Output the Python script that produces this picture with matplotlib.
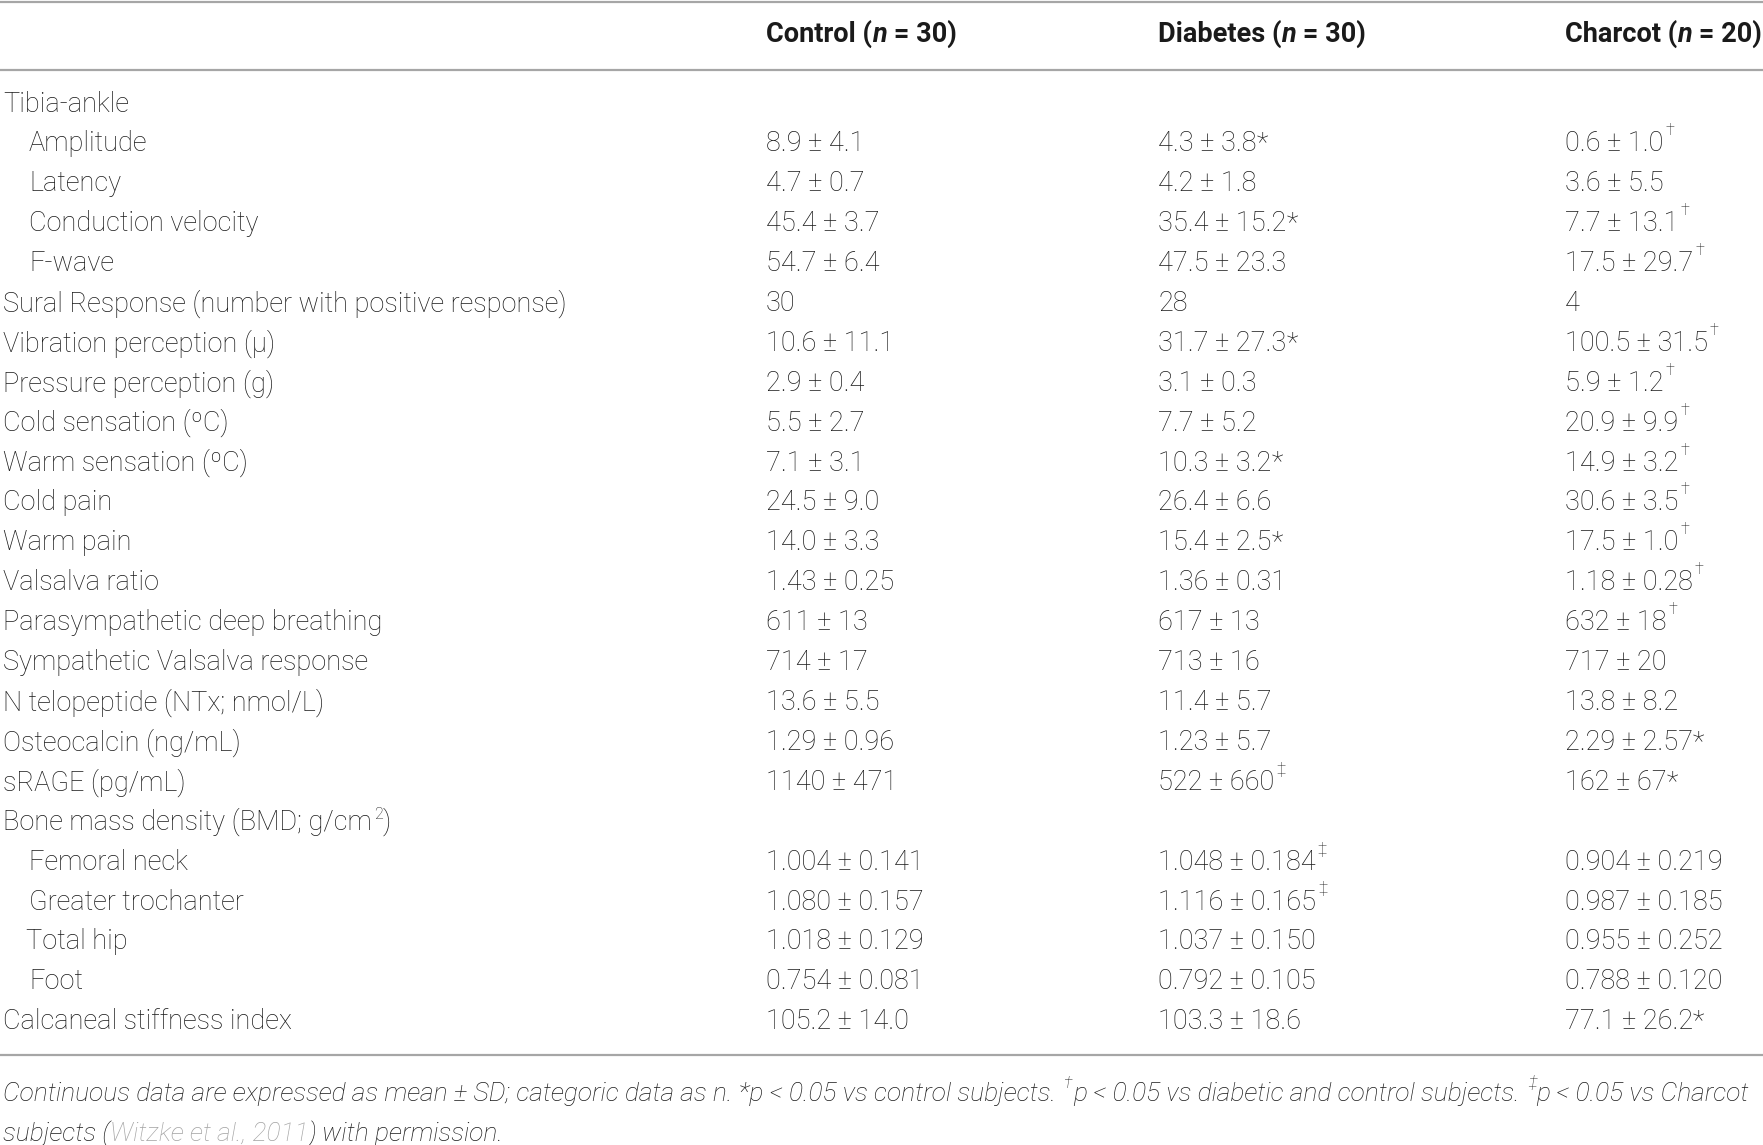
import matplotlib
matplotlib.use("Agg")
import matplotlib.pyplot as plt

# ---------------- data ----------------
headers = ["Control", "Diabetes", "Charcot"]
header_n = ["30", "30", "20"]

row_labels = [
    "Tibia-ankle", "Amplitude", "Latency", "Conduction velocity", "F-wave",
    "Sural Response (number with positive response)", "Vibration perception (\u03bc)",
    "Pressure perception (g)", "Cold sensation (\u00baC)", "Warm sensation (\u00baC)",
    "Cold pain", "Warm pain", "Valsalva ratio", "Parasympathetic deep breathing",
    "Sympathetic Valsalva response", "N telopeptide (NTx; nmol/L)",
    "Osteocalcin (ng/mL)", "sRAGE (pg/mL)", "Bone mass density (BMD; g/cm",
    "Femoral neck", "Greater trochanter", "Total hip", "Foot",
    "Calcaneal stiffness index",
]
row_indent = [0, 1, 1, 1, 1, 0, 0, 0, 0, 0, 0, 0, 0, 0, 0, 0, 0, 0, 0, 1, 1, 1, 1, 0]

control = ["", "8.9\u00b14.1", "4.7\u00b10.7", "45.4\u00b13.7", "54.7\u00b16.4", "30",
           "10.6\u00b111.1", "2.9\u00b10.4", "5.5\u00b12.7", "7.1\u00b13.1", "24.5\u00b19.0",
           "14.0\u00b13.3", "1.43\u00b10.25", "611\u00b113", "714\u00b117", "13.6\u00b15.5",
           "1.29\u00b10.96", "1140\u00b1471", "", "1.004\u00b10.141", "1.080\u00b10.157",
           "1.018\u00b10.129", "0.754\u00b10.081", "105.2\u00b114.0"]
control_mark = [""] * 24

diabetes = ["", "4.3\u00b13.8", "4.2\u00b11.8", "35.4\u00b115.2", "47.5\u00b123.3", "28",
            "31.7\u00b127.3", "3.1\u00b10.3", "7.7\u00b15.2", "10.3\u00b13.2", "26.4\u00b16.6",
            "15.4\u00b12.5", "1.36\u00b10.31", "617\u00b113", "713\u00b116", "11.4\u00b15.7",
            "1.23\u00b15.7", "522\u00b1660", "", "1.048\u00b10.184", "1.116\u00b10.165",
            "1.037\u00b10.150", "0.792\u00b10.105", "103.3\u00b118.6"]
diabetes_mark = ["", "*", "", "*", "", "", "*", "", "", "*", "", "*", "", "", "", "",
                 "", "\u2021", "", "\u2021", "\u2021", "", "", ""]

charcot = ["", "0.6\u00b11.0", "3.6\u00b15.5", "7.7\u00b113.1", "17.5\u00b129.7", "4",
           "100.5\u00b131.5", "5.9\u00b11.2", "20.9\u00b19.9", "14.9\u00b13.2", "30.6\u00b13.5",
           "17.5\u00b11.0", "1.18\u00b10.28", "632\u00b118", "717\u00b120", "13.8\u00b18.2",
           "2.29\u00b12.57", "162\u00b167", "", "0.904\u00b10.219", "0.987\u00b10.185",
           "0.955\u00b10.252", "0.788\u00b10.120", "77.1\u00b126.2"]
charcot_mark = ["", "\u2020", "", "\u2020", "\u2020", "", "\u2020", "\u2020", "\u2020", "\u2020",
                "\u2020", "\u2020", "\u2020", "\u2020", "", "", "*", "*", "", "", "", "", "", "*"]

footnote1 = [("Continuous data are expressed as mean \u00b1 SD; categoric data as n. *p < 0.05 vs control subjects. ", "n"),
             ("\u2020", "sup"),
             ("p < 0.05 vs diabetic and control subjects. ", "n"),
             ("\u2021", "sup"),
             ("p < 0.05 vs Charcot", "n")]
footnote2 = [("subjects (", "n"), ("Witzke et al., 2011", "gray"), (") with permission.", "n")]

# ---------------- layout ----------------
W, H = 1763, 1145
fig = plt.figure(figsize=(W / 100, H / 100), dpi=100)
ax = fig.add_axes([0, 0, 1, 1])
ax.set_xlim(0, W)
ax.set_ylim(H, 0)
ax.axis("off")

BODY = dict(family=["Roboto", "DejaVu Sans"], fontweight="light", fontsize=19.5, color="#1a1a1a")
HEAD = dict(family=["Roboto", "DejaVu Sans"], fontweight="bold", fontsize=19.5, color="#1a1a1a")
FOOT = dict(family=["Roboto", "DejaVu Sans"], fontweight="light", style="italic", fontsize=19.0, color="#1a1a1a")

fig.canvas.draw()
renderer = fig.canvas.get_renderer()


def width_of(s, props):
    t = ax.text(0, 0, s + "|", **props)
    t2 = ax.text(0, 0, "|", **props)
    w = t.get_window_extent(renderer).width - t2.get_window_extent(renderer).width
    t.remove(); t2.remove()
    return w


def runs(x, y, parts, base, sup_dy=12):
    for s, kind in parts:
        p = dict(base)
        yy = y
        if kind == "sup":
            p["fontsize"] = base["fontsize"] * 0.6
            yy = y - sup_dy
            x += 2
        elif kind == "gray":
            p["color"] = "#a3a3a3"
        elif kind == "bi":
            p["style"] = "italic"
        ax.text(x, yy, s, va="center", ha="left", **p)
        x += width_of(s, p)
    return x


def pm(s):
    return s.replace("\u00b1", " \u00b1 ")


# rules
for yl in (1.5, 70, 1055):
    ax.plot([0, W], [yl, yl], color="#a6a6a6", lw=1.6, solid_capstyle="butt")

col_x = [766, 1158, 1565]
for hx, h, n in zip(col_x, headers, header_n):
    runs(hx, 34, [(h + " (", "n"), ("n", "bi"), (" = " + n + ")", "n")], HEAD)

row_y0, row_dy = 104, 39.9
label_x = [3, 29]
for i, lab in enumerate(row_labels):
    y = row_y0 + i * row_dy
    lx = label_x[row_indent[i]] - (3 if lab == "Total hip" else 0)
    if lab.startswith("Bone mass density"):
        runs(lx, y, [(lab, "n"), ("2", "sup"), (")", "n")], BODY, sup_dy=8)
    else:
        ax.text(lx, y, lab, va="center", ha="left", **BODY)
    for cx, vals, marks in zip(col_x, (control, diabetes, charcot),
                               (control_mark, diabetes_mark, charcot_mark)):
        v = vals[i]
        if not v:
            continue
        parts = [(pm(v), "n")]
        m = marks[i]
        if m == "*":
            parts.append(("*", "n"))
        elif m:
            parts.append((m, "sup"))
        runs(cx, y, parts, BODY, sup_dy=13)

runs(3, 1094, footnote1, FOOT, sup_dy=11)
runs(3, 1134, footnote2, FOOT)

fig.savefig("out.png", dpi=100, facecolor="white")
